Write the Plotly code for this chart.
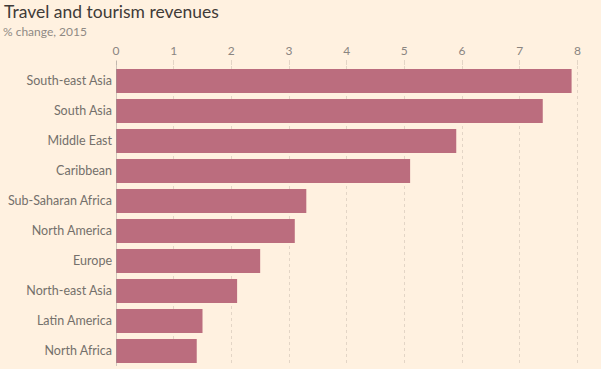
import plotly.graph_objects as go

categories = ["South-east Asia", "South Asia", "Middle East", "Caribbean",
              "Sub-Saharan Africa", "North America", "Europe",
              "North-east Asia", "Latin America", "North Africa"]
values = [7.9, 7.4, 5.9, 5.1, 3.3, 3.1, 2.5, 2.1, 1.5, 1.4]
tick_vals = [0, 1, 2, 3, 4, 5, 6, 7, 8]

BG = "#FFF1E0"
BAR = "#BB6D7E"
FONT = "Lato, 'Open Sans', sans-serif"

fig = go.Figure(go.Bar(
    x=values, y=categories, orientation="h",
    marker=dict(color=BAR, line=dict(width=0)),
    width=0.8, hoverinfo="x+y",
))

W, H = 605, 369
ml, mr, mt, mb = 116, 5, 66, 3
pw = W - ml - mr
ph = H - mt - mb
unit = 57.67

fig.update_layout(
    width=W, height=H,
    margin=dict(l=ml, r=mr, t=mt, b=mb, autoexpand=False),
    paper_bgcolor=BG, plot_bgcolor=BG,
    font=dict(family=FONT, color="#74706B"),
    showlegend=False,
    bargap=0.2,
    xaxis=dict(
        side="top", range=[0, pw / unit], automargin=False,
        tickvals=tick_vals, ticktext=[str(v) for v in tick_vals],
        showgrid=True, gridcolor="#E3D5C6", griddash="dot", gridwidth=1,
        ticks="outside", ticklen=5, tickcolor="#E3D5C6", tickwidth=1,
        tickfont=dict(size=12, color="#8A8580"),
        zeroline=False, showline=False, fixedrange=True,
    ),
    yaxis=dict(
        autorange="reversed", categoryorder="array", categoryarray=categories,
        automargin=False,
        tickfont=dict(size=12.5, color="#74706B"),
        ticks="", ticklabelstandoff=3,
        showgrid=False, zeroline=False, showline=False, fixedrange=True,
    ),
    shapes=[
        dict(type="line", xref="x", yref="paper", x0=0, x1=0, y0=0, y1=1 + 5 / ph,
             line=dict(color="#A09A95", width=1)),
        dict(type="rect", xref="paper", yref="paper",
             x0=(601 - ml) / pw, x1=(W - ml) / pw + 0.01, y0=-0.05, y1=1.3,
             fillcolor="white", line=dict(width=0), layer="above"),
    ],
    annotations=[
        dict(text="Travel and tourism revenues", xref="paper", yref="paper",
             x=-(ml - 2) / pw, y=1 + (mt + 1) / ph,
             xanchor="left", yanchor="top", showarrow=False,
             font=dict(size=17.5, color="#3F3B38", family=FONT)),
        dict(text="% change, 2015", xref="paper", yref="paper",
             x=-(ml - 1) / pw, y=1 + (mt - 22) / ph,
             xanchor="left", yanchor="top", showarrow=False,
             font=dict(size=12, color="#8F8984", family=FONT)),
    ],
)

fig.write_html(
    "out.html",
    config={"displayModeBar": False},
    post_script="document.body.style.margin='0';document.body.style.overflow='hidden';",
)
